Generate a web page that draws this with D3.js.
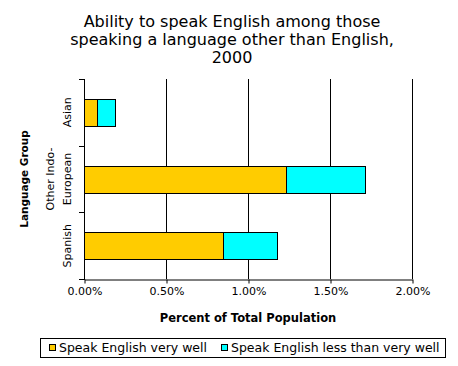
<!DOCTYPE html>
<html>
<head>
<meta charset="utf-8">
<script src="https://cdn.jsdelivr.net/npm/d3@7"></script>
<style>
  body { margin: 0; background: #fff; }
  svg { display: block; font-family: "DejaVu Sans", Verdana, sans-serif; }
</style>
</head>
<body>
<div class="canvas"></div>
<script>
// DATA
const categories = ['Asian', 'Other Indo-European', 'Spanish'];
const categoryLines = [['Asian'], ['Other Indo-', 'European'], ['Spanish']];
const veryWell = [0.079, 1.232, 0.848];
const lessWell = [0.110, 0.481, 0.329];
const seriesNames = ['Speak English very well', 'Speak English less than very well'];
const xTicks = [0, 0.5, 1.0, 1.5, 2.0];
const titleLines = [
  'Ability to speak English among those',
  'speaking a language other than English,',
  '2000'
];

const dims = { width: 458, height: 366 };
const plot = { left: 84, right: 412, top: 79, bottom: 279 };
const colors = ['#ffcc00', '#00ffff'];

const svg = d3
  .select('.canvas')
  .append('svg')
  .attr('width', dims.width)
  .attr('height', dims.height);

// SCALES
const x = d3.scaleLinear().domain([0, 2]).range([plot.left, plot.right]);
const y = d3
  .scaleBand()
  .domain(categories)
  .range([plot.top, plot.bottom])
  .paddingInner(0.6)
  .paddingOuter(0.3);

// TITLE
svg
  .append('text')
  .attr('text-anchor', 'middle')
  .attr('font-size', 16)
  .attr('fill', '#000')
  .selectAll('tspan')
  .data(titleLines)
  .enter()
  .append('tspan')
  .attr('x', 232)
  .attr('y', (d, i) => 27 + i * 18)
  .text((d) => d);

// GRIDLINES
svg
  .append('g')
  .selectAll('line')
  .data(xTicks.slice(1))
  .enter()
  .append('line')
  .attr('x1', (d) => Math.round(x(d)) + 0.5)
  .attr('x2', (d) => Math.round(x(d)) + 0.5)
  .attr('y1', plot.top)
  .attr('y2', plot.bottom)
  .attr('stroke', '#000');

// STACKED BARS
const stacked = categories.map((c, i) => [
  { key: 0, cat: c, x0: 0, x1: veryWell[i] },
  { key: 1, cat: c, x0: veryWell[i], x1: veryWell[i] + lessWell[i] }
]);

svg
  .append('g')
  .selectAll('g')
  .data(stacked)
  .enter()
  .append('g')
  .selectAll('rect')
  .data((d) => d)
  .enter()
  .append('rect')
  .attr('x', (d) => Math.round(x(d.x0)) + 0.5)
  .attr('y', (d) => Math.round(y(d.cat)) + 0.5)
  .attr('width', (d) => Math.round(x(d.x1)) - Math.round(x(d.x0)))
  .attr('height', Math.round(y.bandwidth()))
  .attr('fill', (d) => colors[d.key])
  .attr('stroke', '#000');

// X AXIS
const xAxis = d3
  .axisBottom(x)
  .tickValues(xTicks)
  .tickSize(4)
  .tickSizeOuter(0)
  .tickFormat((d) => d.toFixed(2) + '%');

const xg = svg
  .append('g')
  .attr('transform', `translate(0.5, ${plot.bottom + 0.5})`)
  .call(xAxis);
xg.select('.domain').attr('stroke', '#000');
xg.selectAll('.tick line').attr('stroke', '#000');
xg.selectAll('.tick text')
  .attr('font-family', '"DejaVu Sans", Verdana, sans-serif')
  .attr('font-size', 11)
  .attr('fill', '#000')
  .attr('y', 8)
  .attr('dy', '0.71em');

// Y AXIS (ticks at category boundaries)
const boundaryVals = d3.range(categories.length + 1).map((i) => plot.top + i * y.step());
const yg = svg.append('g');
yg.append('line')
  .attr('x1', plot.left + 0.5)
  .attr('x2', plot.left + 0.5)
  .attr('y1', plot.top)
  .attr('y2', plot.bottom + 1)
  .attr('stroke', '#000');
yg.selectAll('.ytick')
  .data(boundaryVals)
  .enter()
  .append('line')
  .attr('class', 'ytick')
  .attr('x1', plot.left - 5)
  .attr('x2', plot.left)
  .attr('y1', (d) => Math.round(d) + 0.5)
  .attr('y2', (d) => Math.round(d) + 0.5)
  .attr('stroke', '#000');

// CATEGORY LABELS (rotated)
categories.forEach((c, i) => {
  const cy = y(c) + y.bandwidth() / 2;
  const lines = categoryLines[i];
  const t = svg
    .append('text')
    .attr('transform', `translate(71, ${cy}) rotate(-90)`)
    .attr('text-anchor', 'middle')
    .attr('font-size', 11)
    .attr('fill', '#000');
  lines.forEach((l, j) => {
    t.append('tspan')
      .attr('x', 0)
      .attr('y', (j - (lines.length - 1)) * 17)
      .text(l);
  });
});

// AXIS TITLES
svg
  .append('text')
  .attr('transform', `translate(28, ${(plot.top + plot.bottom) / 2}) rotate(-90)`)
  .attr('text-anchor', 'middle')
  .attr('font-size', 10.5)
  .attr('font-weight', 'bold')
  .attr('fill', '#000')
  .text('Language Group');

svg
  .append('text')
  .attr('x', 248)
  .attr('y', 322)
  .attr('text-anchor', 'middle')
  .attr('font-size', 11.5)
  .attr('font-weight', 'bold')
  .attr('fill', '#000')
  .text('Percent of Total Population');

// LEGEND
const legend = svg.append('g');
legend
  .append('rect')
  .attr('x', 40.5)
  .attr('y', 338.5)
  .attr('width', 405)
  .attr('height', 19)
  .attr('fill', '#fff')
  .attr('stroke', '#000');

const legendX = [49, 221];
seriesNames.forEach((name, i) => {
  legend
    .append('rect')
    .attr('x', legendX[i] + 0.5)
    .attr('y', 344.5)
    .attr('width', 6)
    .attr('height', 6)
    .attr('fill', colors[i])
    .attr('stroke', '#000');
  legend
    .append('text')
    .attr('x', legendX[i] + 10)
    .attr('y', 352)
    .attr('font-size', 12.5)
    .attr('fill', '#000')
    .text(name);
});
</script>
</body>
</html>
